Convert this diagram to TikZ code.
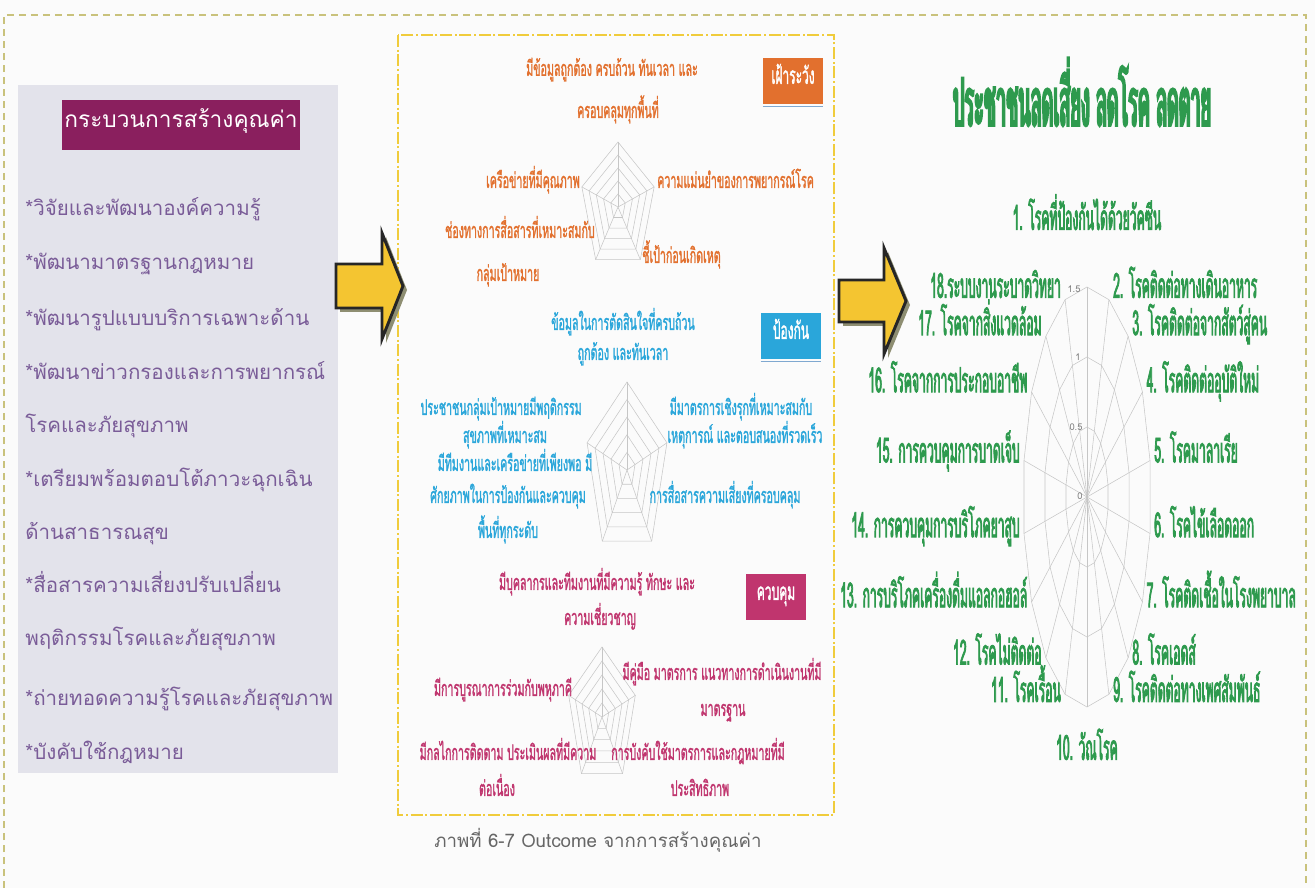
\documentclass[tikz,border=0pt]{standalone}
\usepackage{fontspec}
\usepackage{tikz}
\usetikzlibrary{calc}
\newfontfamily\plainthai[Script=Thai]{Loma}
\newfontfamily\narrowthai[Script=Thai,FakeStretch=0.5,FakeBold=1.2]{Loma}
\newfontfamily\tallthai[Script=Thai,FakeStretch=0.35,FakeBold=2]{Loma}
\newfontfamily\headthai[Script=Thai,FakeStretch=0.27,FakeBold=3]{Loma}
\definecolor{pagebg}{HTML}{FBFBFB}
\definecolor{framecol}{HTML}{C9C27C}
\definecolor{midframe}{HTML}{F0CC3C}
\definecolor{panelgray}{HTML}{E3E3EB}
\definecolor{titleplum}{HTML}{8A1F5E}
\definecolor{itemtext}{HTML}{7A5C98}
\definecolor{survcol}{HTML}{E2702E}
\definecolor{prevcol}{HTML}{2AA6DA}
\definecolor{ctrlcol}{HTML}{C0356E}
\definecolor{outcol}{HTML}{2E9A4E}
\definecolor{webgray}{HTML}{C6C6C6}
\definecolor{arrowfill}{HTML}{F4C531}
\definecolor{arrowshadow}{HTML}{8E8E72}
\definecolor{tagline}{HTML}{7FA8D0}
\tikzset{
  thaitext/.style={text height=1ex, text depth=0pt, inner sep=0pt},
  item/.style={thaitext, anchor=west, text=itemtext, font=\plainthai\fontsize{15.4}{17}\selectfont},
  titlebox/.style={thaitext, fill=titleplum, text=white, minimum width=178pt, minimum height=37pt, font=\plainthai\fontsize{17}{19}\selectfont},
  midtext/.style={thaitext, font=\narrowthai\fontsize{16}{18}\selectfont},
  tagbox/.style={thaitext, text=white, minimum width=45pt, minimum height=35pt, font=\narrowthai\fontsize{18}{20}\selectfont},
  tagrule/.style={draw=tagline, line width=0.8pt},
  webline/.style={draw=webgray, line width=0.4pt},
  outlabel/.style={thaitext, text=outcol, font=\tallthai\fontsize{26}{28}\selectfont},
  arrowline/.style={draw=black!85, line width=2.2pt, line join=miter, fill=arrowfill},
  arrowshade/.style={fill=arrowshadow}
}
% pentagon web: centre x, centre y, radius x, radius y
\newcommand{\pentaweb}[4]{%
  \foreach \lv in {1,...,5} {
    \draw[webline] (#1,{#2-#4*\lv/5}) \foreach \k in {1,...,4} { -- ({#1+#3*\lv/5*sin(72*\k)},{#2-#4*\lv/5*cos(72*\k)}) } -- cycle;
  }
  \foreach \k in {0,...,4} {
    \draw[webline] (#1,#2) -- ({#1+#3*sin(72*\k)},{#2-#4*cos(72*\k)});
  }
}
% fat arrow: name, shaft left x, mid y, shaft half, head x, head half, tip x
\newcommand{\fatarrow}[7]{%
  \fill[arrowshade, shift={(4,4)}] (#2,{#3-#4}) -- (#5,{#3-#4}) -- (#5,{#3-#6}) -- (#7,#3) -- (#5,{#3+#6}) -- (#5,{#3+#4}) -- (#2,{#3+#4}) -- cycle;
  \draw[arrowline] (#2,{#3-#4}) -- (#5,{#3-#4}) -- (#5,{#3-#6}) -- (#7,#3) -- (#5,{#3+#6}) -- (#5,{#3+#4}) -- (#2,{#3+#4}) -- cycle;
  \coordinate (#1) at (#7,#3);
}
\begin{document}
\begin{tikzpicture}[x=0.75pt,y=-0.75pt]
\useasboundingbox (0,0) rectangle (1315,888);
\fill[pagebg] (0,0) rectangle (1315,888);
\draw[framecol, line width=0.8pt, dash pattern=on 5pt off 4pt] (4,888) -- (4,15) -- (1306,15) -- (1306,888);

% left panel
\fill[panelgray] (18,85) rectangle (338,773);
\node[titlebox] (proc) at (181,125) {กระบวนการสร้างคุณค่า};
\foreach \y/\txt/\nm in {213/{*วิจัยและพัฒนาองค์ความรู้}/a, 267/{*พัฒนามาตรฐานกฎหมาย}/b,
    323/{*พัฒนารูปแบบบริการเฉพาะด้าน}/c, 377/{*พัฒนาข่าวกรองและการพยากรณ์}/d,
    430/{โรคและภัยสุขภาพ}/e, 484/{*เตรียมพร้อมตอบโต้ภาวะฉุกเฉิน}/f,
    537/{ด้านสาธารณสุข}/g, 590/{*สื่อสารความเสี่ยงปรับเปลี่ยน}/h,
    643/{พฤติกรรมโรคและภัยสุขภาพ}/i, 703/{*ถ่ายทอดความรู้โรคและภัยสุขภาพ}/j,
    757/{*บังคับใช้กฎหมาย}/k}
  \node[item] (item\nm) at (25,\y) {\txt};

% middle panel
\draw[midframe, line width=1.2pt, dash pattern=on 9pt off 2pt on 1.5pt off 2pt] (398,35) rectangle (834,815);

% surveillance
\pentaweb{618}{207}{38}{65}
\node[tagbox, fill=survcol] (surv) at (793,81) {เฝ้าระวัง};
\draw[tagrule] ([yshift=-1.5pt]surv.south west) -- ([yshift=-1.5pt]surv.south east);
\begin{scope}[every node/.style={midtext, text=survcol}]
  \node (s1) at (612,73) {มีข้อมูลถูกต้อง ครบถ้วน ทันเวลา และ};
  \node (s2) at (618,115) {ครอบคลุมทุกพื้นที่};
  \node[anchor=east] (s3) at (580,185) {เครือข่ายที่มีคุณภาพ};
  \node[anchor=west] (s4) at (657,185) {ความแม่นยำของการพยากรณ์โรค};
  \node[anchor=east] (s5) at (595,235) {ช่องทางการสื่อสารที่เหมาะสมกับ};
  \node (s6) at (508,278) {กลุ่มเป้าหมาย};
  \node[anchor=west] (s7) at (642,260) {ชี้เป้าก่อนเกิดเหตุ};
\end{scope}

% prevention
\pentaweb{627}{470}{42}{88}
\node[tagbox, fill=prevcol] (prev) at (791,336) {ป้องกัน};
\draw[tagrule] ([yshift=-1.5pt]prev.south west) -- ([yshift=-1.5pt]prev.south east);
\begin{scope}[every node/.style={midtext, text=prevcol}]
  \node (p1) at (623,327) {ข้อมูลในการตัดสินใจที่ครบถ้วน};
  \node (p2) at (623,357) {ถูกต้อง และทันเวลา};
  \node[anchor=east] (p3) at (582,412) {ประชาชนกลุ่มเป้าหมายมีพฤติกรรม};
  \node (p4) at (505,440) {สุขภาพที่เหมาะสม};
  \node (p5) at (515,468) {มีทีมงานและเครือข่ายที่เพียงพอ มี};
  \node (p6) at (508,500) {ศักยภาพในการป้องกันและควบคุม};
  \node (p7) at (508,535) {พื้นที่ทุกระดับ};
  \node (p8) at (741,412) {มีมาตรการเชิงรุกที่เหมาะสมกับ};
  \node (p9) at (745,440) {เหตุการณ์ และตอบสนองที่รวดเร็ว};
  \node (p10) at (725,500) {การสื่อสารความเสี่ยงที่ครอบคลุม};
\end{scope}

% control
\pentaweb{602}{717}{35}{70}
\node[tagbox, fill=ctrlcol] (ctrl) at (776,597) {ควบคุม};
\begin{scope}[every node/.style={midtext, text=ctrlcol}]
  \node (c1) at (597,587) {มีบุคลากรและทีมงานที่มีความรู้ ทักษะ และ};
  \node (c2) at (600,622) {ความเชี่ยวชาญ};
  \node (c3) at (722,677) {มีคู่มือ มาตรการ แนวทางการดำเนินงานที่มี};
  \node (c4) at (723,713) {มาตรฐาน};
  \node (c5) at (503,693) {มีการบูรณาการร่วมกับพหุภาคี};
  \node (c6) at (508,757) {มีกลไกการติดตาม ประเมินผลที่มีความ};
  \node (c7) at (497,793) {ต่อเนื่อง};
  \node (c8) at (698,757) {การบังคับใช้มาตรการและกฎหมายที่มี};
  \node (c9) at (700,793) {ประสิทธิภาพ};
\end{scope}

% outcome panel
\node[thaitext, text=outcol, font=\headthai\fontsize{50}{52}\selectfont] (goal) at (1082,123) {ประชาชนลดเสี่ยง ลดโรค ลดตาย};
\coordinate (hub) at (1087,497);
\foreach \lv in {1,2,3}
  \draw[webline] (1087,{497-70*\lv}) \foreach \a in {20,40,...,340} { -- ({1087+21.33*\lv*sin(\a)},{497-70*\lv*cos(\a)}) } -- cycle;
\foreach \i in {1,...,18} {
  \pgfmathsetmacro{\ang}{(\i-1)*20}
  \coordinate (sp\i) at ({1087+64*sin(\ang)},{497-210*cos(\ang)});
  \draw[webline] (hub) -- (sp\i);
}
\begin{scope}[every node/.style={thaitext, text=gray, font=\plainthai\fontsize{7}{8}\selectfont}]
  \node (t15) at (1074,290) {1.5};
  \node (t10) at (1078,358) {1};
  \node (t05) at (1076,428) {0.5};
  \node (t00) at (1080,497) {0};
\end{scope}
\node[outlabel] (d1) at (1087,227) {1. โรคที่ป้องกันได้ด้วยวัคซีน};
\node[outlabel] (d10) at (1087,757) {10. วัณโรค};
\foreach \i/\txt in {2/{2. โรคติดต่อทางเดินอาหาร}, 3/{3. โรคติดต่อจากสัตว์สู่คน},
    4/{4. โรคติดต่ออุบัติใหม่}, 5/{5. โรคมาลาเรีย}, 6/{6. โรคไข้เลือดออก},
    7/{7. โรคติดเชื้อในโรงพยาบาล}, 8/{8. โรคเอดส์}, 9/{9. โรคติดต่อทางเพศสัมพันธ์},
    11/{11. โรคเรื้อน}, 12/{12. โรคไม่ติดต่อ}, 13/{13. การบริโภคเครื่องดื่มแอลกอฮอล์},
    14/{14. การควบคุมการบริโภคยาสูบ}, 15/{15. การควบคุมการบาดเจ็บ},
    16/{16. โรคจากการประกอบอาชีพ}, 17/{17. โรคจากสิ่งแวดล้อม}, 18/{18.ระบบงานระบาดวิทยา}} {
  \pgfmathsetmacro{\dy}{-5*cos((\i-1)*20)}
  \ifnum\i<10 \def\side{west}\def\dx{3pt}\else\def\side{east}\def\dx{-3pt}\fi
  \node[outlabel, anchor=\side] (d\i) at ([xshift=\dx]$(sp\i)+(0,\dy)$) {\txt};
}

% arrows
\fatarrow{arrowA}{336}{286}{22}{382}{53}{403}
\fatarrow{arrowB}{839}{301}{21}{884}{53}{906}

% caption
\node[thaitext, text=black!60, font=\plainthai\fontsize{14}{16}\selectfont] (cap) at (598,845) {ภาพที่ 6-7 Outcome จากการสร้างคุณค่า};
\end{tikzpicture}
\end{document}
